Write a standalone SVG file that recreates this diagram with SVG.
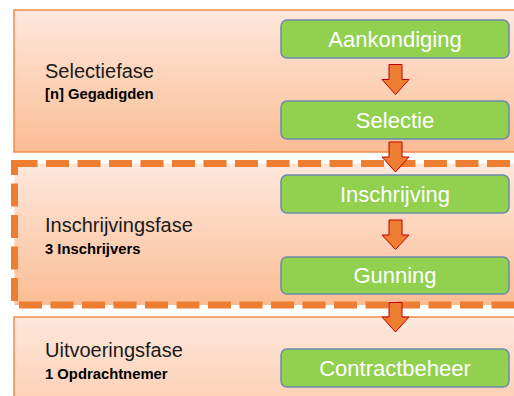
<svg xmlns="http://www.w3.org/2000/svg" width="514" height="396" viewBox="0 0 514 396">
  <defs>
    <linearGradient id="phaseGrad" x1="0" y1="0" x2="0" y2="1">
      <stop offset="0" stop-color="#fee8dd"/>
      <stop offset="1" stop-color="#fbbd94"/>
    </linearGradient>
    <style>
      .phase { fill: url(#phaseGrad); stroke: #f08a4b; stroke-width: 1.5; }
      .dashed { fill: url(#phaseGrad); stroke: #ed7d31; stroke-width: 7; stroke-dasharray: 23 8.5; }
      .step { fill: #92d050; stroke: #6b8bab; stroke-width: 1.5; }
      .steptext { font-family: "Liberation Sans", Arial, sans-serif; font-size: 22px; fill: #ffffff; text-anchor: middle; }
      .title { font-family: "Liberation Sans", Arial, sans-serif; font-size: 20px; fill: #1a1a1a; }
      .sub { font-family: "Liberation Sans", Arial, sans-serif; font-size: 14.8px; font-weight: bold; fill: #000000; }
      .arrow { fill: #ed7d31; stroke: #c00000; stroke-width: 1; stroke-linejoin: miter; }
    </style>
  </defs>
  <rect width="514" height="396" fill="#ffffff"/>

  <g id="phase-selectie">
    <rect class="phase" x="14" y="10" width="510" height="142"/>
    <text class="title" x="45" y="78">Selectiefase</text>
    <text class="sub" x="45" y="99">[n] Gegadigden</text>
  </g>

  <g id="phase-inschrijving">
    <rect class="dashed" x="14.5" y="163.5" width="510" height="141.5"/>
    <text class="title" x="45" y="231.5">Inschrijvingsfase</text>
    <text class="sub" x="45" y="254">3 Inschrijvers</text>
  </g>

  <g id="phase-uitvoering">
    <rect class="phase" x="14" y="317" width="510" height="150"/>
    <text class="title" x="45" y="357">Uitvoeringsfase</text>
    <text class="sub" x="45" y="379">1 Opdrachtnemer</text>
  </g>

  <g id="step-aankondiging">
    <rect class="step" x="281" y="20" width="228" height="38" rx="6"/>
    <text class="steptext" x="395" y="46.5">Aankondiging</text>
  </g>
  <g id="step-selectie">
    <rect class="step" x="281" y="101" width="228" height="38" rx="6"/>
    <text class="steptext" x="395" y="127.5">Selectie</text>
  </g>
  <g id="step-inschrijving">
    <rect class="step" x="281" y="175" width="228" height="38" rx="6"/>
    <text class="steptext" x="395" y="201.5">Inschrijving</text>
  </g>
  <g id="step-gunning">
    <rect class="step" x="281" y="257" width="228" height="37" rx="6"/>
    <text class="steptext" x="395" y="283">Gunning</text>
  </g>
  <g id="step-contractbeheer">
    <rect class="step" x="281" y="349" width="228" height="38" rx="6"/>
    <text class="steptext" x="395" y="375.5">Contractbeheer</text>
  </g>

  <g id="connectors">
    <path class="arrow" d="M389,64.5 H402 V79.5 H409 L395.5,94.5 L382,79.5 H389 Z"/>
    <path class="arrow" d="M389,142 H402 V157 H409 L395.5,172 L382,157 H389 Z"/>
    <path class="arrow" d="M389,220 H402 V235 H409 L395.5,249.5 L382,235 H389 Z"/>
    <path class="arrow" d="M389,302.5 H402 V317 H409 L395.5,332 L382,317 H389 Z"/>
  </g>
</svg>
